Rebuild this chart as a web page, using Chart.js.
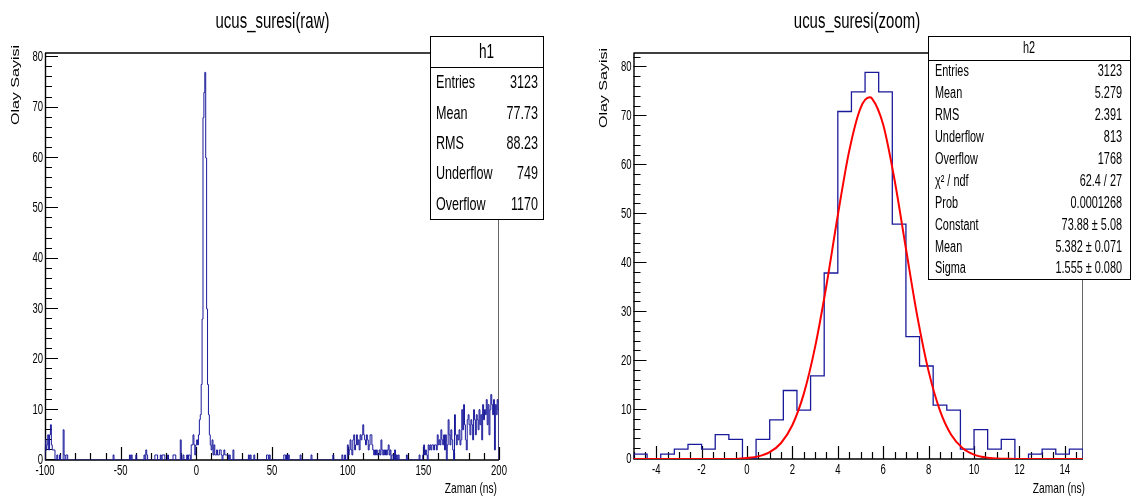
<!DOCTYPE html>
<html>
<head>
<meta charset="utf-8">
<script src="https://cdn.jsdelivr.net/npm/chart.js@4.4.1/dist/chart.umd.min.js"></script>
<style>
  html, body { margin: 0; padding: 0; background: #fff; }
  #wrap { position: relative; width: 1133px; height: 498px; overflow: hidden; background: #fff; }
  canvas { position: absolute; top: 0; }
  #c1 { left: 0; }
  #c2 { left: 566px; }
</style>
</head>
<body>
<div id="wrap">
  <canvas id="c1" width="566" height="498"></canvas>
  <canvas id="c2" width="567" height="498"></canvas>
</div>
<script>
// ---- h1 : ucus_suresi(raw), 500 bins of 0.6 ns starting at -100 ----
const h1Min = -100;
const h1BinWidth = 0.6;
const h1Counts = [
  4,2,3,5,2,5,7,3,2,2, 2,0,0,1,0,0,1,0,0,0,
  6,1,0,1,1,0,0,0,0,0, 0,0,0,0,0,0,0,0,0,0,
  0,0,0,0,0,0,0,0,0,0, 0,0,0,0,0,0,0,0,0,0,
  0,0,0,0,0,0,0,0,0,0, 0,0,0,0,0,1,0,0,0,0,
  0,0,0,0,0,0,0,0,0,0, 0,0,0,1,0,1,0,0,0,0,
  1,0,0,0,0,0,0,0,0,1, 0,2,1,0,0,0,0,0,0,0,
  0,1,1,1,0,0,0,1,0,1, 1,1,0,0,0,1,0,0,0,0,
  0,1,1,1,0,0,0,0,0,4, 0,0,1,0,0,0,1,0,1,1,
  0,3,3,5,3,1,3,4,3,5, 8,9,15,28,68,73,77,60,30,15,
  9,5,3,2,4,1,3,1,1,2, 1,1,2,2,1,0,1,2,1,1,
  1,1,0,1,0,0,0,2,0,0, 0,0,0,0,0,0,0,0,0,0,
  0,0,0,0,1,0,1,0,0,0, 1,0,0,0,0,0,0,0,0,0,
  0,0,0,0,1,1,0,1,0,0, 0,0,0,0,0,0,0,0,0,0,
  0,0,0,1,1,0,1,0,1,0, 0,0,0,0,0,0,0,0,0,0,
  0,1,0,0,0,0,0,0,0,0, 0,0,0,1,0,0,0,0,0,0,
  0,0,0,0,0,0,0,0,0,0, 0,0,0,0,0,0,0,1,0,0,
  0,0,0,0,0,0,0,1,0,0, 1,0,0,3,1,2,4,2,1,4,
  5,2,3,5,3,4,2,5,4,5, 7,5,4,3,5,4,2,3,5,5,
  3,2,1,2,1,2,1,1,2,1, 4,2,1,2,1,2,1,2,3,1,
  2,0,1,1,0,2,0,1,0,1, 0,0,0,0,0,0,0,0,1,0,
  0,0,0,0,0,0,0,0,0,0, 0,0,1,0,0,0,1,3,1,2,
  1,0,3,2,3,2,3,3,2,3, 3,2,5,3,4,3,6,4,3,5,
  2,5,0,3,8,5,3,6,4,2, 0,9,5,3,5,4,6,3,4,10,
  6,11,7,4,2,8,9,7,5,8, 7,4,10,8,5,9,8,6,10,7,
  9,4,11,8,10,9,12,7,11,5, 10,13,11,9,12,2,11,9,12,10
];
const h1XTicks = [-100, -50, 0, 50, 100, 150, 200];
const h1YTicks = [0, 10, 20, 30, 40, 50, 60, 70, 80];
const h1StatLabels = ['Entries', 'Mean', 'RMS', 'Underflow', 'Overflow'];
const h1StatValues = ['3123', '77.73', '88.23', '749', '1170'];

// ---- h2 : ucus_suresi(zoom), 33 bins of 0.6 ns starting at -5 ----
const h2Min = -5;
const h2BinWidth = 0.6;
const h2Counts = [1,0,1,2,3,2,5,4,0,4, 8,14,10,17,38,71,75,79,75,48, 25,19,11,10,2,6,2,4,0,1, 2,1,2];
const h2XTicks = [-4, -2, 0, 2, 4, 6, 8, 10, 12, 14];
const h2YTicks = [0, 10, 20, 30, 40, 50, 60, 70, 80];
const h2StatLabels = ['Entries', 'Mean', 'RMS', 'Underflow', 'Overflow', 'χ² / ndf', 'Prob', 'Constant', 'Mean', 'Sigma'];
const h2StatValues = ['3123', '5.279', '2.391', '813', '1768', '62.4 / 27', '0.0001268', '73.88 ± 5.08', '5.382 ± 0.071', '1.555 ± 0.080'];

// gaus fit curve
const fitX = [-5, -4, -3, -2, -1, -0.5, 0, 0.5, 1, 1.5, 2, 2.5, 3, 3.5, 4, 4.5, 5, 5.4, 5.5, 6, 6.5, 7, 7.5, 8, 8.5, 9, 9.5, 10, 10.5, 11, 11.5, 12, 13, 14, 14.8];
const fitY = [0, 0, 0, 0, 0, 0.02, 0.19, 0.53, 1.39, 3.27, 6.94, 13.3, 22.9, 35.5, 49.8, 62.9, 71.7, 73.9, 73.7, 68.3, 57.0, 43.0, 29.2, 17.9, 9.9, 4.9, 2.2, 0.9, 0.33, 0.11, 0.03, 0.01, 0, 0, 0];

const FONT = '"Liberation Sans", Arial, sans-serif';
const SQUEEZE = 0.68;
const HIST_COLOR = '#1a1a9c';

function txt(ctx, s, x, y, size, align, base) {
  ctx.save();
  ctx.font = size + 'px ' + FONT;
  ctx.textAlign = align || 'left';
  ctx.textBaseline = base || 'alphabetic';
  ctx.fillStyle = '#000';
  ctx.translate(x, y);
  ctx.scale(SQUEEZE, 1);
  ctx.fillText(s, 0, 0);
  ctx.restore();
}

function histPoints(min, w, counts) {
  const pts = [{x: min, y: 0}];
  counts.forEach((c, i) => pts.push({x: min + i * w, y: c}));
  pts.push({x: min + counts.length * w, y: 0});
  return pts;
}

// ROOT style pad: frame, inward ticks, labels, titles and stats box
function rootPad(cfg) {
  return {
    id: 'rootPad',
    beforeDatasetsDraw(chart) {
      const {ctx, chartArea: a, scales: {x, y}} = chart;
      ctx.save();
      ctx.strokeStyle = '#000';
      ctx.lineWidth = 1.5;
      ctx.beginPath(); ctx.moveTo(a.left, a.top); ctx.lineTo(a.right, a.top); ctx.stroke();
      ctx.strokeStyle = '#666';
      ctx.lineWidth = 1;
      ctx.beginPath(); ctx.moveTo(a.right - 0.5, a.top); ctx.lineTo(a.right - 0.5, a.bottom); ctx.stroke();
      ctx.strokeStyle = '#000';
      ctx.lineWidth = 1.4;
      ctx.beginPath();
      ctx.moveTo(a.left + 0.5, a.top); ctx.lineTo(a.left + 0.5, a.bottom);
      ctx.lineTo(a.right, a.bottom);
      ctx.stroke();

      // y ticks
      ctx.lineWidth = 1.2;
      ctx.beginPath();
      for (let v = 0; v <= y.max + 1e-9; v += cfg.yMinor) {
        const py = Math.round(y.getPixelForValue(v)) - 0.5;
        const major = Math.abs(v / cfg.yMajor - Math.round(v / cfg.yMajor)) < 1e-6;
        ctx.moveTo(a.left, py); ctx.lineTo(a.left + (major ? 13 : 7), py);
      }
      // x ticks
      const x0 = Math.ceil((x.min - 1e-9) / cfg.xMinor) * cfg.xMinor;
      for (let v = x0; v <= x.max + 1e-9; v += cfg.xMinor) {
        const px = Math.round(x.getPixelForValue(v)) + 0.5;
        const major = Math.abs(v / cfg.xMajor - Math.round(v / cfg.xMajor)) < 1e-6;
        ctx.moveTo(px, a.bottom); ctx.lineTo(px, a.bottom - (major ? 13 : 7));
      }
      ctx.stroke();
      ctx.restore();

      cfg.yTicks.forEach(v => txt(ctx, String(v), a.left - 2, y.getPixelForValue(v), 14, 'right', 'middle'));
      cfg.xTicks.forEach(v => txt(ctx, String(v), x.getPixelForValue(v), a.bottom + 4, 14, 'center', 'top'));
    },
    afterDraw(chart) {
      const {ctx} = chart;
      txt(ctx, cfg.title, cfg.titleX, 28, 22, 'center');
      txt(ctx, 'Zaman (ns)', cfg.xTitleX, 493, 15, 'right');
      // rotated y title, squeezed across the glyph height
      ctx.save();
      ctx.font = '16px ' + FONT;
      ctx.textAlign = 'right';
      ctx.fillStyle = '#000';
      ctx.translate(cfg.yTitleX, cfg.yTitleY);
      ctx.rotate(-Math.PI / 2);
      ctx.scale(1, SQUEEZE);
      ctx.fillText('Olay Sayisi', 0, 0);
      ctx.restore();

      // stats box
      const b = cfg.box;
      ctx.save();
      ctx.fillStyle = '#fff';
      ctx.fillRect(b.x, b.y, b.w, b.h);
      ctx.strokeStyle = '#000';
      ctx.lineWidth = 1;
      ctx.strokeRect(b.x + 0.5, b.y + 0.5, b.w, b.h);
      ctx.beginPath();
      ctx.moveTo(b.x, b.y + b.headH + 0.5); ctx.lineTo(b.x + b.w, b.y + b.headH + 0.5);
      ctx.stroke();
      ctx.restore();
      txt(ctx, b.name, b.x + b.w / 2, b.y + b.headH / 2 + 1, b.nameSize, 'center', 'middle');
      const rowH = (b.h - b.headH) / b.labels.length;
      b.labels.forEach((l, i) => {
        const cy = b.y + b.headH + rowH * (i + 0.5) + 1;
        txt(ctx, l, b.x + b.padL, cy, b.size, 'left', 'middle');
        txt(ctx, b.values[i], b.x + b.w - b.padR, cy, b.size, 'right', 'middle');
      });
    }
  };
}

const baseOpts = (pad, xmin, xmax, ymax) => ({
  responsive: false,
  animation: false,
  devicePixelRatio: 1,
  layout: { padding: pad },
  scales: {
    x: { type: 'linear', min: xmin, max: xmax, display: false },
    y: { type: 'linear', min: 0, max: ymax, display: false }
  },
  plugins: { legend: { display: false }, tooltip: { enabled: false } }
});

new Chart(document.getElementById('c1'), {
  type: 'line',
  data: {
    datasets: [{
      data: histPoints(h1Min, h1BinWidth, h1Counts),
      borderColor: HIST_COLOR, borderWidth: 1, stepped: true,
      pointRadius: 0, fill: false
    }]
  },
  options: baseOpts({left: 45, right: 67, top: 53, bottom: 38}, -100, 200, 80.85),
  plugins: [rootPad({
    title: 'ucus_suresi(raw)', titleX: 272.5, xTitleX: 497, yTitleX: 18.5, yTitleY: 45,
    xTicks: h1XTicks, yTicks: h1YTicks, xMinor: 10, xMajor: 50, yMinor: 2, yMajor: 10,
    box: { x: 430, y: 36, w: 113, h: 183, headH: 31, name: 'h1', nameSize: 20,
           labels: h1StatLabels, values: h1StatValues, size: 18.5, padL: 6, padR: 5 }
  })]
});

new Chart(document.getElementById('c2'), {
  type: 'line',
  data: {
    datasets: [{
      data: fitX.map((v, i) => ({x: v, y: fitY[i]})),
      borderColor: '#ff0000', borderWidth: 2, cubicInterpolationMode: 'monotone',
      pointRadius: 0, fill: false, order: 1
    }, {
      data: histPoints(h2Min, h2BinWidth, h2Counts),
      borderColor: HIST_COLOR, borderWidth: 1.3, stepped: true,
      pointRadius: 0, fill: false, order: 2
    }]
  },
  options: baseOpts({left: 67.5, right: 50, top: 53, bottom: 39}, -5, 14.8, 82.95),
  plugins: [rootPad({
    title: 'ucus_suresi(zoom)', titleX: 291, xTitleX: 519, yTitleX: 41, yTitleY: 48,
    xTicks: h2XTicks, yTicks: h2YTicks, xMinor: 0.5, xMajor: 2, yMinor: 2, yMajor: 10,
    box: { x: 362, y: 36, w: 202, h: 243, headH: 24, name: 'h2', nameSize: 16,
           labels: h2StatLabels, values: h2StatValues, size: 16, padL: 7, padR: 8 }
  })]
});
</script>
</body>
</html>
